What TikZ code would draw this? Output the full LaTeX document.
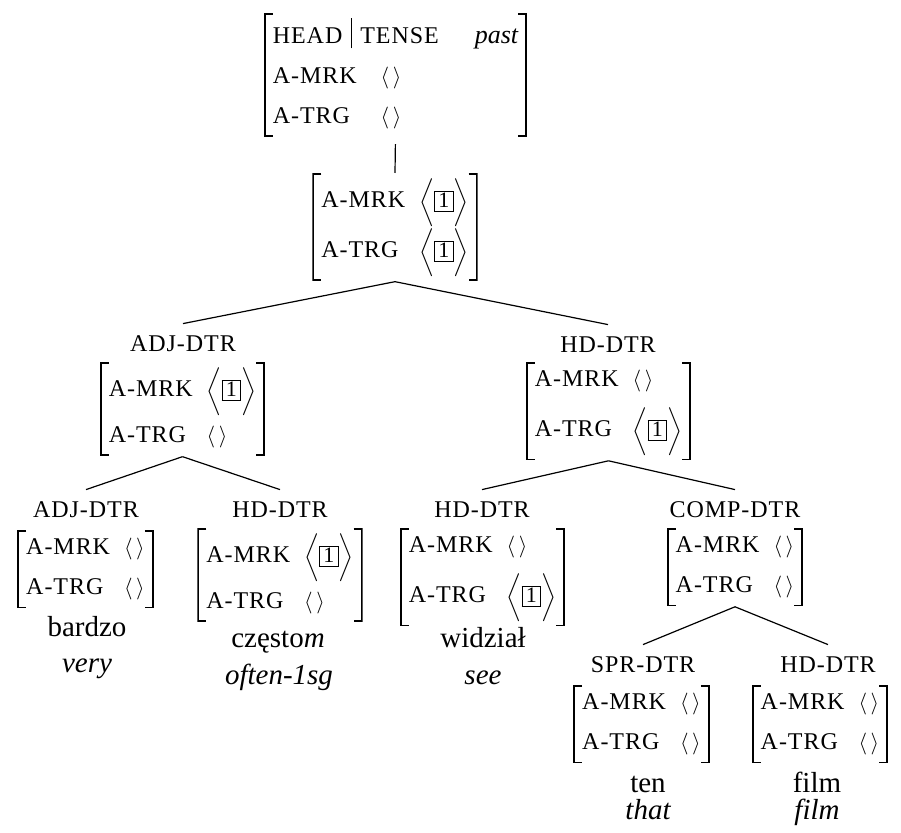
\documentclass[tikz,border=0pt]{standalone}
\usepackage{fontspec}
\setmainfont{Liberation Serif}
\newfontfamily\wordfont{Liberation Serif}
\newfontfamily\featfont[LetterSpace=4]{Liberation Serif}
\usepackage{tikz}

\newcommand{\feat}[1]{{\featfont\fontsize{12}{14}\selectfont #1}}
\newcommand{\emptyl}{$\langle\,\rangle$}
\newcommand{\boxone}{{\setlength{\fboxsep}{0pt}\setlength{\fboxrule}{0.4pt}\fbox{\makebox[9pt]{\rule[-1.5pt]{0pt}{9.5pt}\wordfont\fontsize{11}{11}\selectfont 1}}}}
\newcommand{\avmone}{$\left\langle\rule[-9pt]{0pt}{23pt}\boxone\right\rangle$}

\begin{document}
\begin{tikzpicture}
    [
    x = 0.5pt, y = -0.5pt,
    avm/.style    = {anchor=north, inner xsep=4.5pt, inner ysep=2.5pt,
                     font=\wordfont\fontsize{10.5}{14}\selectfont,
                     path picture={
                       \draw[line width=.9pt]
                         ([xshift=4.5pt,yshift=-.45pt]path picture bounding box.north west)
                         -| ([xshift=.45pt,yshift=.45pt]path picture bounding box.south west)
                         -- ++(4pt,0);
                       \draw[line width=.9pt]
                         ([xshift=-4.5pt,yshift=-.45pt]path picture bounding box.north east)
                         -| ([xshift=-.45pt,yshift=.45pt]path picture bounding box.south east)
                         -- ++(-4pt,0);}},
    lab/.style    = {anchor=base, inner sep=0pt, text height=14pt,
                     font=\featfont\fontsize{12}{14}\selectfont},
    word/.style   = {anchor=base, inner sep=0pt, font=\wordfont\fontsize{14.5}{17}\selectfont},
    branch/.style = {line width=.6pt}
    ]
    \useasboundingbox (0,0) rectangle (901,833);

    \node [avm] (root) at (395.5,13) {\begin{tabular}{@{}l@{\hspace{12pt}}l@{}}
        \multicolumn{2}{@{}l@{}}{\feat{HEAD}\hspace{4.5pt}\rule[-2.5pt]{0.5pt}{15pt}\hspace{4pt}\feat{TENSE}\hspace{18pt}{\fontsize{13}{14}\selectfont\itshape past}}\\[6pt]
        \feat{A-MRK} & \emptyl\\[6pt]
        \feat{A-TRG} & \emptyl
        \end{tabular}};
    \node [avm] (mid) at (395,173) {\begin{tabular}{@{}l@{\hspace{7pt}}l@{}}
        \feat{A-MRK} & \avmone\\[6pt]
        \feat{A-TRG} & \avmone
        \end{tabular}};

    \node [lab] (adjL) at (183,352) {ADJ-DTR};
    \node [avm] (adj) at (182.5,362) {\begin{tabular}{@{}l@{\hspace{7pt}}l@{}}
        \feat{A-MRK} & \avmone\\[9pt]
        \feat{A-TRG} & \emptyl
        \end{tabular}};
    \node [lab] (hdL) at (608,353) {HD-DTR};
    \node [avm] (hd) at (608.5,362) {\begin{tabular}{@{}l@{\hspace{7pt}}l@{}}
        \feat{A-MRK} & \emptyl\\[6pt]
        \feat{A-TRG} & \avmone
        \end{tabular}};

    \node [lab] (adjAL) at (86,518) {ADJ-DTR};
    \node [avm] (adjA) at (85.5,530) {\begin{tabular}{@{}l@{\hspace{7pt}}l@{}}
        \feat{A-MRK} & \emptyl\\[6pt]
        \feat{A-TRG} & \emptyl
        \end{tabular}};
    \node [word] (bardzo) at (87,637) {bardzo};
    \node [word] (very) at (87,673) {\itshape very};

    \node [lab] (hdAL) at (280,518) {HD-DTR};
    \node [avm] (hdA) at (280,528) {\begin{tabular}{@{}l@{\hspace{7pt}}l@{}}
        \feat{A-MRK} & \avmone\\[9pt]
        \feat{A-TRG} & \emptyl
        \end{tabular}};
    \node [word] (czesto) at (278,648) {często\textit{m}};
    \node [word] (often) at (279,685) {\itshape often-1sg};

    \node [lab] (hdBL) at (482,518) {HD-DTR};
    \node [avm] (hdB) at (482.5,528) {\begin{tabular}{@{}l@{\hspace{7pt}}l@{}}
        \feat{A-MRK} & \emptyl\\[6pt]
        \feat{A-TRG} & \avmone
        \end{tabular}};
    \node [word] (widzial) at (483,648) {widział};
    \node [word] (see) at (483,685) {\itshape see};

    \node [lab] (compL) at (735,518) {COMP-DTR};
    \node [avm] (comp) at (735,528) {\begin{tabular}{@{}l@{\hspace{7pt}}l@{}}
        \feat{A-MRK} & \emptyl\\[6pt]
        \feat{A-TRG} & \emptyl
        \end{tabular}};

    \node [lab] (sprL) at (643,673) {SPR-DTR};
    \node [avm] (spr) at (641.5,685) {\begin{tabular}{@{}l@{\hspace{7pt}}l@{}}
        \feat{A-MRK} & \emptyl\\[6pt]
        \feat{A-TRG} & \emptyl
        \end{tabular}};
    \node [word] (ten) at (648,793) {ten};
    \node [word] (that) at (648,820) {\itshape that};

    \node [lab] (hdCL) at (828,673) {HD-DTR};
    \node [avm] (hdC) at (820,685) {\begin{tabular}{@{}l@{\hspace{7pt}}l@{}}
        \feat{A-MRK} & \emptyl\\[6pt]
        \feat{A-TRG} & \emptyl
        \end{tabular}};
    \node [word] (film) at (817,793) {film};
    \node [word] (filmGl) at (817,820) {\itshape film};

    \draw [branch, shorten <=3.5pt] (root.south) -- (mid.north);
    \draw [branch] (mid.south) -- (adjL.north);
    \draw [branch] (mid.south) -- (hdL.north);
    \draw [branch] (adj.south) -- (adjAL.north);
    \draw [branch] (adj.south) -- (hdAL.north);
    \draw [branch] (hd.south) -- (hdBL.north);
    \draw [branch] (hd.south) -- (compL.north);
    \draw [branch] (comp.south) -- (sprL.north);
    \draw [branch] (comp.south) -- (hdCL.north);
\end{tikzpicture}
\end{document}
